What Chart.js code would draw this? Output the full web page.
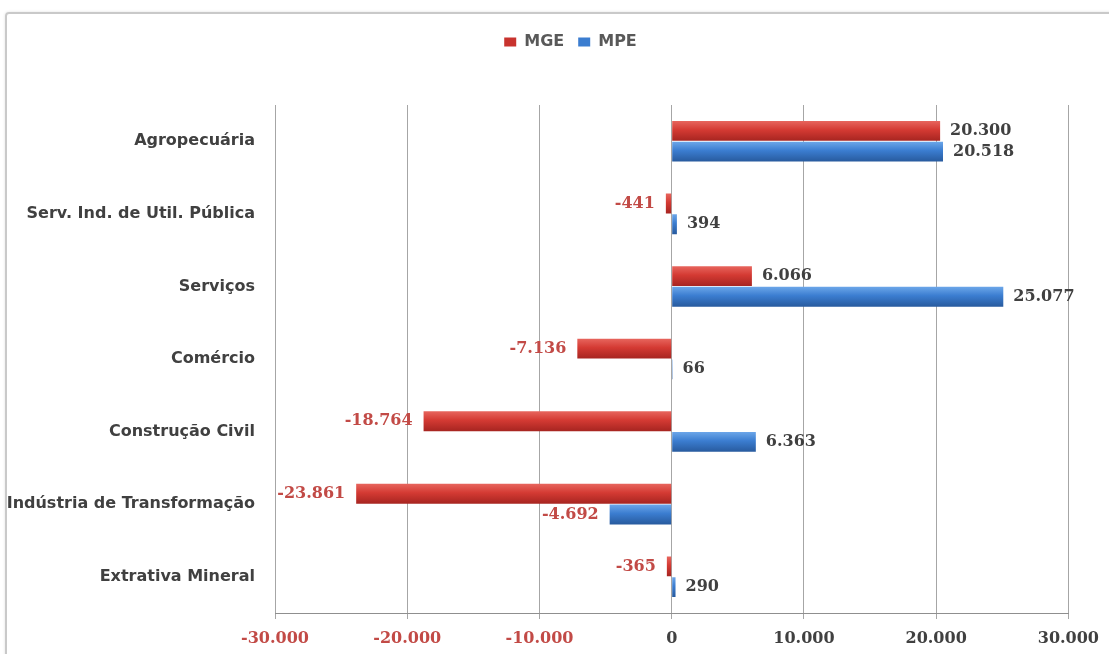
<!DOCTYPE html>
<html lang="pt-BR">
<head>
<meta charset="utf-8">
<title>Saldo de empregos por setor - MGE x MPE</title>
<script src="https://cdn.jsdelivr.net/npm/chart.js@4.4.1/dist/chart.umd.min.js"></script>
<style>
  html, body { margin: 0; padding: 0; background: #fff; }
  #moldura {
    position: absolute; left: 5px; top: 12px; width: 1130px; height: 680px;
    border: 2px solid #c9c9c9; border-radius: 4px; box-shadow: 0 0 3px rgba(0,0,0,0.12);
  }
  #caixa { position: absolute; left: 0; top: 0; width: 1109px; height: 654px; }
</style>
</head>
<body>
<div id="moldura"></div>
<div id="caixa"><canvas id="grafico"></canvas></div>
<script>
const setores = ["Agropecuária", "Serv. Ind. de Util. Pública", "Serviços", "Comércio",
  "Construção Civil", "Indústria de Transformação", "Extrativa Mineral"];
const mge = [20300, -441, 6066, -7136, -18764, -23861, -365];
const mpe = [20518, 394, 25077, 66, 6363, -4692, 290];
const eixoMin = -30000;
const eixoMax = 30000;
const passo = 10000;

const CAT_PCT = 0.57;
const VERMELHO_TXT = "#c24a46";
const CINZA_TXT = "#404040";

// formato brasileiro: ponto como separador de milhar
function fmt(v) {
  const s = String(Math.abs(v)).replace(/\B(?=(\d{3})+(?!\d))/g, ".");
  return v < 0 ? "-" + s : s;
}

// preenchimento com efeito "cilindro" como no Excel
function preenchimento(topo, meio, base, solido) {
  return ctx => {
    if (ctx.type !== "data") return solido;
    const ys = ctx.chart.scales.y;
    if (!ys || !isFinite(ys.top) || !isFinite(ys.bottom)) return solido;
    const cat = (ys.bottom - ys.top) / setores.length;
    const par = cat * CAT_PCT;
    const c = ys.getPixelForValue(ctx.dataIndex);
    if (!isFinite(c)) return solido;
    const y0 = ctx.datasetIndex === 0 ? c - par / 2 : c;
    const g = ctx.chart.ctx.createLinearGradient(0, y0, 0, y0 + par / 2);
    g.addColorStop(0, topo);
    g.addColorStop(0.45, meio);
    g.addColorStop(1, base);
    return g;
  };
}

const rotulosValores = {
  id: "rotulosValores",
  afterDatasetsDraw(chart) {
    const ctx = chart.ctx;
    ctx.save();
    ctx.font = "bold 16px 'DejaVu Serif'";
    ctx.textBaseline = "middle";
    chart.data.datasets.forEach((ds, i) => {
      chart.getDatasetMeta(i).data.forEach((barra, j) => {
        const v = ds.data[j];
        if (v < 0) {
          ctx.fillStyle = VERMELHO_TXT;
          ctx.textAlign = "right";
          ctx.fillText(fmt(v), barra.x - 11, barra.y);
        } else {
          ctx.fillStyle = CINZA_TXT;
          ctx.textAlign = "left";
          ctx.fillText(fmt(v), barra.x + 10, barra.y);
        }
      });
    });
    ctx.restore();
  }
};

// espaço extra abaixo da legenda e legenda um pouco à direita
const DESLOC_LEGENDA = 34;
function moverLegenda(lg, dx) {
  lg.left += dx;
  lg.right += dx;
  (lg.legendHitBoxes || []).forEach(h => { h.left += dx; });
}
const espacoLegenda = {
  id: "espacoLegenda",
  beforeInit(chart) {
    const fitOriginal = chart.legend.fit;
    chart.legend.fit = function () {
      fitOriginal.call(this);
      this.height = 85;
    };
  },
  beforeDraw(chart) { moverLegenda(chart.legend, DESLOC_LEGENDA); },
  afterDraw(chart) { moverLegenda(chart.legend, -DESLOC_LEGENDA); }
};

new Chart(document.getElementById("grafico"), {
  type: "bar",
  data: {
    labels: setores,
    datasets: [
      {
        label: "MGE",
        data: mge,
        backgroundColor: preenchimento("#e8675f", "#d43a33", "#a52420", "#cf3a34"),
        borderWidth: 0,
        categoryPercentage: CAT_PCT,
        barPercentage: 0.96
      },
      {
        label: "MPE",
        data: mpe,
        backgroundColor: preenchimento("#6ea8ea", "#3b7dd0", "#27599c", "#3b7dd0"),
        borderWidth: 0,
        categoryPercentage: CAT_PCT,
        barPercentage: 0.96
      }
    ]
  },
  options: {
    indexAxis: "y",
    responsive: true,
    maintainAspectRatio: false,
    animation: false,
    layout: { padding: { top: 20, left: 0, right: 36, bottom: 0 } },
    plugins: {
      tooltip: { enabled: false },
      legend: {
        position: "top",
        align: "center",
        labels: {
          boxWidth: 12,
          boxHeight: 9,
          padding: 14,
          color: "#595959",
          font: { family: "DejaVu Sans", size: 16, weight: "bold" },
          generateLabels(chart) {
            const itens = Chart.defaults.plugins.legend.labels.generateLabels(chart);
            const cores = ["#c8332e", "#3b7dd0"];
            itens.forEach((it, k) => { it.fillStyle = cores[k]; it.strokeStyle = cores[k]; it.lineWidth = 0; });
            return itens;
          }
        }
      }
    },
    scales: {
      x: {
        min: eixoMin,
        max: eixoMax,
        afterFit(s) { s.height = 41; },
        ticks: {
          stepSize: passo,
          padding: 10,
          color: c => (c.tick && c.tick.value < 0 ? VERMELHO_TXT : CINZA_TXT),
          font: { family: "DejaVu Serif", size: 16, weight: "bold" },
          callback: v => fmt(v)
        },
        grid: { color: "#a6a6a6", lineWidth: 1, tickLength: 6 },
        border: { display: true, color: "#8f8f8f", width: 1 }
      },
      y: {
        afterFit(s) { s.width = 275; },
        ticks: {
          padding: 12,
          color: CINZA_TXT,
          font: { family: "DejaVu Sans", size: 16, weight: "bold" }
        },
        grid: { display: false },
        border: { display: false }
      }
    }
  },
  plugins: [rotulosValores, espacoLegenda]
});
</script>
</body>
</html>
